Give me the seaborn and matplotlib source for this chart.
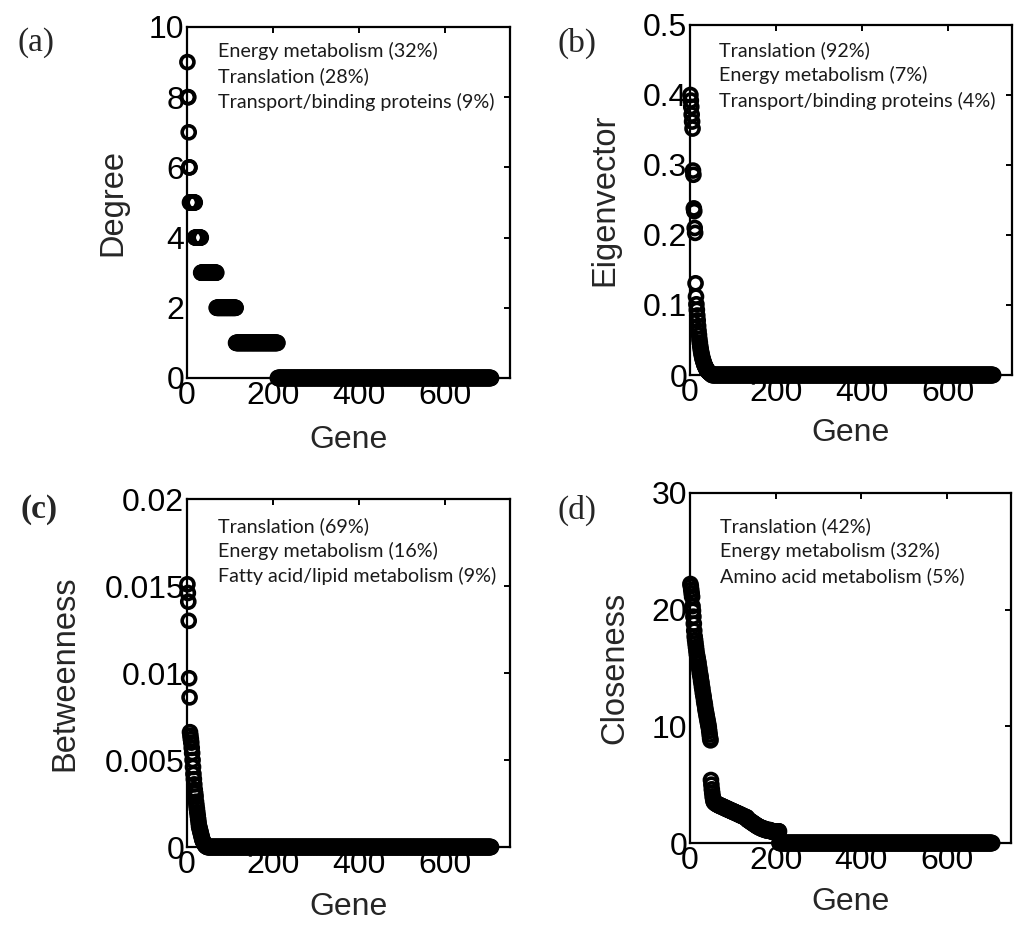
import numpy as np
import pandas as pd
import matplotlib
matplotlib.use('Agg')
import matplotlib.pyplot as plt
import seaborn as sns

# ---- data (genes ranked by centrality) ----
# degree: (value, number of genes with it)
degree_levels = [9, 8, 7, 6, 5, 4, 3, 2, 1, 0]
degree_counts = [1, 2, 1, 2, 12, 14, 36, 45, 97, 496]

# eigenvector: top-ranked genes, the rest are ~0
eigen_top = [0.400, 0.392, 0.383, 0.372, 0.362, 0.352, 0.292, 0.286, 0.238, 0.234,
             0.210, 0.203, 0.131, 0.112, 0.101, 0.093, 0.085, 0.078, 0.070, 0.063,
             0.057, 0.051, 0.046, 0.041, 0.037, 0.033, 0.030, 0.027, 0.024, 0.022,
             0.020, 0.018, 0.016, 0.014, 0.013, 0.012, 0.010, 0.009, 0.008, 0.007,
             0.006, 0.005, 0.0045, 0.004, 0.0035, 0.003, 0.0025, 0.002, 0.0015, 0.001]
eigen_zero_count = 656

# betweenness
betw_top = [0.0151, 0.0146, 0.0141, 0.0130, 0.0097, 0.0086, 0.0066, 0.0064, 0.0062, 0.0060,
            0.0057, 0.0054, 0.0050, 0.0046, 0.0042, 0.0039, 0.0036, 0.0033, 0.0031, 0.0029,
            0.0026, 0.0024, 0.0022, 0.0020, 0.0018, 0.0016, 0.0014, 0.0012, 0.0011, 0.0010,
            0.0009, 0.0008, 0.0007, 0.0006, 0.0005, 0.0004, 0.00035, 0.0003, 0.00025, 0.0002,
            0.00015, 0.0001, 0.00008, 0.00006, 0.00004, 0.00002]
betw_zero_count = 660

# closeness: first band listed gene by gene, second band as (value, count)
close_top = [22.2, 22.0, 21.7, 21.4, 21.1,
             20.3, 19.9, 19.4, 18.8, 18.2, 17.7, 17.4, 17.1, 16.8, 16.5,
             16.2, 16.0, 15.8, 15.6, 15.4, 15.1, 14.9, 14.6, 14.4, 14.2,
             13.9, 13.7, 13.4, 13.2, 12.9, 12.7, 12.5, 12.2, 12.0, 11.8,
             11.5, 11.3, 11.1, 10.9, 10.7, 10.5, 10.3, 10.1, 9.9, 9.6,
             9.3, 9.0, 8.8]
close_mid_levels = [5.4, 5.0, 4.6, 4.3, 4.0, 3.8, 3.6, 3.5, 3.4, 3.3, 3.2, 3.1, 3.0, 2.9,
                    2.8, 2.7, 2.6, 2.5, 2.4, 2.3, 2.2, 2.0, 1.9, 1.8, 1.7, 1.6, 1.5, 1.4,
                    1.3, 1.2, 1.1, 1.0]
close_mid_counts = [1, 1, 1, 1, 1, 1, 1, 3, 4, 5, 6, 6, 6, 6,
                    6, 6, 6, 6, 6, 6, 6, 4, 4, 4, 4, 4, 4, 5,
                    6, 8, 12, 20]
close_zero_count = 498

panel_tags = ['(a)', '(b)', '(c)', '(d)']
y_names = ['Degree', 'Eigenvector', 'Betweenness', 'Closeness']
x_ticks = [0, 200, 400, 600]
y_ticks = [[0, 2, 4, 6, 8, 10],
           [0, 0.1, 0.2, 0.3, 0.4, 0.5],
           [0, 0.005, 0.01, 0.015, 0.02],
           [0, 10, 20, 30]]
y_ticklabels = [['0', '2', '4', '6', '8', '10'],
                ['0', '0.1', '0.2', '0.3', '0.4', '0.5'],
                ['0', '0.005', '0.01', '0.015', '0.02'],
                ['0', '10', '20', '30']]
notes = [['Energy metabolism (32%)', 'Translation (28%)', 'Transport/binding proteins (9%)'],
         ['Translation (92%)', 'Energy metabolism (7%)', 'Transport/binding proteins (4%)'],
         ['Translation (69%)', 'Energy metabolism (16%)', 'Fatty acid/lipid metabolism (9%)'],
         ['Translation (42%)', 'Energy metabolism (32%)', 'Amino acid metabolism (5%)']]

degree = np.repeat(degree_levels, degree_counts)
eigen = np.concatenate([eigen_top, np.zeros(eigen_zero_count)])
betw = np.concatenate([betw_top, np.zeros(betw_zero_count)])
close = np.concatenate([close_top, np.repeat(close_mid_levels, close_mid_counts),
                        np.zeros(close_zero_count)])
series = [degree, eigen, betw, close]

# ---- layout ----
sns.set_style('white')
plt.rcParams['font.family'] = ['Liberation Sans', 'DejaVu Sans']

fig = plt.figure(figsize=(10.24, 9.31), dpi=100)
rects = [[0.1826, 0.594, 0.3154, 0.377],
         [0.6738, 0.5972, 0.3145, 0.376],
         [0.1826, 0.0902, 0.3154, 0.3738],
         [0.6738, 0.0945, 0.3135, 0.376]]
ylabel_x = [-0.18, -0.217, -0.33, -0.186]
xlabel_y = [-0.134, -0.123, -0.129, -0.126]
note_x = [0.096, 0.089, 0.096, 0.093]
note_y = [0.915, 0.911, 0.906, 0.889]
tag_pos = [(0.035, 0.954), (0.5635, 0.953), (0.038, 0.453), (0.5635, 0.452)]

for i in range(4):
    ax = fig.add_axes(rects[i])
    df = pd.DataFrame({'gene': np.arange(1, len(series[i]) + 1), 'value': series[i]})
    sns.scatterplot(data=df, x='gene', y='value', ax=ax, marker='o', s=88,
                    linewidth=2.6, legend=False)
    coll = ax.collections[-1]
    coll.set_facecolor('none')
    coll.set_edgecolor('black')
    coll.set_clip_on(False)
    coll.set_zorder(3)

    ax.set_xlim(0, 750)
    ax.set_ylim(y_ticks[i][0], y_ticks[i][-1])
    ax.set_xticks(x_ticks)
    ax.set_xticklabels([str(t) for t in x_ticks])
    ax.set_yticks(y_ticks[i])
    ax.set_yticklabels(y_ticklabels[i])
    ax.tick_params(direction='in', length=4, width=1.4, top=True, right=True,
                   labelsize=23, pad=2, colors='black')
    for sp in ax.spines.values():
        sp.set_visible(True)
        sp.set_color('black')
        sp.set_linewidth(1.6)

    ax.set_xlabel('Gene', fontsize=23)
    ax.set_ylabel(y_names[i], fontsize=23.5)
    ax.xaxis.set_label_coords(0.5, xlabel_y[i])
    ax.yaxis.set_label_coords(ylabel_x[i], 0.5)

    for k, line in enumerate(notes[i]):
        ax.text(note_x[i], note_y[i] - k * 0.0722, line, transform=ax.transAxes,
                fontsize=14.2, family=['Lato', 'DejaVu Sans'], color='#1a1a1a',
                va='baseline', ha='left')

    fig.text(tag_pos[i][0], tag_pos[i][1], panel_tags[i], ha='center', va='center',
             fontsize=24, family=['Liberation Serif', 'DejaVu Serif'],
             fontweight='bold' if i == 2 else 'normal')

fig.savefig('out.png', dpi=100)
